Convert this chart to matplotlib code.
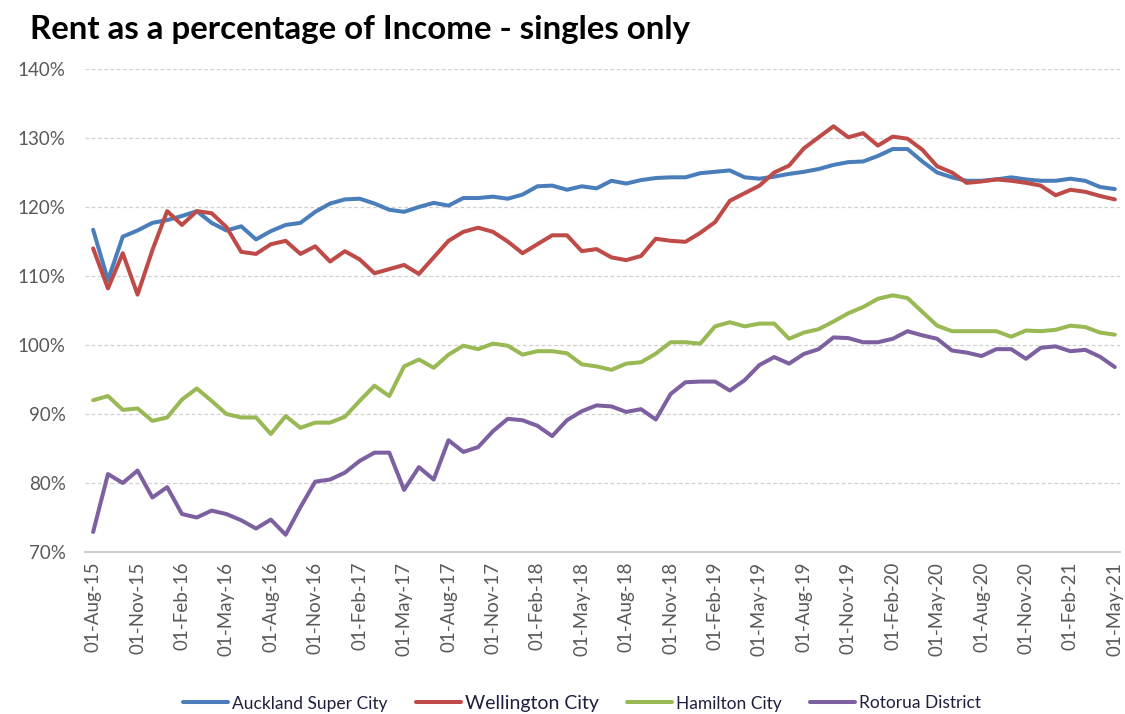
import matplotlib
matplotlib.use("Agg")
import matplotlib.pyplot as plt
import numpy as np
import pandas as pd

plt.rcParams['font.family'] = ['Lato', 'DejaVu Sans']

dates = pd.date_range("2015-08-01", "2021-05-01", freq="MS")

auckland = [116.7, 109.4, 115.7, 116.6, 117.7, 118.1, 118.7, 119.4, 117.7, 116.6,
            117.2, 115.3, 116.5, 117.4, 117.7, 119.3, 120.5, 121.1, 121.2, 120.5,
            119.6, 119.3, 120.0, 120.6, 120.2, 121.3, 121.3, 121.5, 121.2, 121.8,
            123.0, 123.1, 122.5, 123.0, 122.7, 123.8, 123.4, 123.9, 124.2, 124.3,
            124.3, 124.9, 125.1, 125.3, 124.3, 124.1, 124.4, 124.8, 125.1, 125.5,
            126.1, 126.5, 126.6, 127.4, 128.4, 128.4, 126.6, 125.0, 124.3, 123.8,
            123.8, 124.0, 124.3, 124.0, 123.8, 123.8, 124.1, 123.8, 122.9, 122.6]

wellington = [114.0, 108.2, 113.3, 107.3, 113.75, 119.4, 117.4, 119.4, 119.1, 117.1,
              113.5, 113.2, 114.6, 115.1, 113.2, 114.3, 112.1, 113.6, 112.4, 110.4,
              111.0, 111.6, 110.3, 112.7, 115.1, 116.4, 117.0, 116.4, 115.0, 113.3,
              114.6, 115.9, 115.9, 113.6, 113.9, 112.7, 112.3, 112.9, 115.4, 115.1,
              114.95, 116.25, 117.8, 120.9, 122.0, 123.1, 125.0, 126.0, 128.5, 130.1,
              131.7, 130.1, 130.7, 128.9, 130.2, 129.9, 128.3, 125.9, 125.0, 123.5,
              123.7, 124.0, 123.8, 123.5, 123.1, 121.7, 122.5, 122.2, 121.6, 121.1]

hamilton = [92.0, 92.6, 90.6, 90.8, 89.0, 89.5, 92.1, 93.7, 91.9, 90.0,
            89.5, 89.5, 87.1, 89.7, 88.0, 88.75, 88.75, 89.6, 91.9, 94.1,
            92.6, 96.9, 97.9, 96.7, 98.6, 99.9, 99.4, 100.2, 99.9, 98.6,
            99.1, 99.1, 98.8, 97.2, 96.9, 96.4, 97.3, 97.5, 98.75, 100.4,
            100.4, 100.2, 102.7, 103.3, 102.7, 103.1, 103.1, 100.9, 101.8, 102.3,
            103.4, 104.6, 105.5, 106.7, 107.2, 106.8, 104.8, 102.8, 102.0, 102.0,
            102.0, 102.0, 101.2, 102.1, 102.0, 102.2, 102.8, 102.6, 101.8, 101.5]

rotorua = [72.9, 81.3, 80.0, 81.8, 77.9, 79.4, 75.5, 75.0, 76.0, 75.5,
           74.6, 73.4, 74.7, 72.5, 76.5, 80.2, 80.5, 81.5, 83.2, 84.4,
           84.4, 79.0, 82.3, 80.5, 86.2, 84.5, 85.2, 87.5, 89.3, 89.1,
           88.3, 86.8, 89.1, 90.4, 91.25, 91.1, 90.3, 90.7, 89.2, 92.9,
           94.6, 94.7, 94.7, 93.4, 94.9, 97.1, 98.25, 97.3, 98.7, 99.4,
           101.1, 101.0, 100.4, 100.4, 100.9, 102.0, 101.4, 100.9, 99.2, 98.9,
           98.4, 99.4, 99.4, 98.0, 99.6, 99.8, 99.1, 99.3, 98.3, 96.8]

series_names = ["Auckland Super City", "Wellington City", "Hamilton City", "Rotorua District"]
series_values = [auckland, wellington, hamilton, rotorua]
colors = ["#4A7EBB", "#BE4B48", "#98B954", "#7D60A0"]

W, H = 1125, 714
fig = plt.figure(figsize=(W / 100, H / 100), dpi=100)
ax = fig.add_axes([85 / W, (H - 552) / H, (1120 - 85) / W, (552 - 69) / H])

x = np.arange(len(dates))
for name, vals, c in zip(series_names, series_values, colors):
    ax.plot(x, vals, color=c, lw=2.9, label=name, solid_joinstyle='round', solid_capstyle='round')

ax.set_ylim(70, 140)
ax.set_xlim(-0.55, 69.35)
ax.set_yticks(np.arange(70, 141, 10))
ax.set_yticklabels([f"{v}%" for v in range(70, 141, 10)])
ax.yaxis.grid(True, color="#D0D0D0", linestyle=(0, (3, 2)), linewidth=0.9)
ax.set_axisbelow(True)

tick_idx = x[::3]
ax.set_xticks(tick_idx)
ax.set_xticklabels([dates[i].strftime("01-%b-%y") for i in tick_idx], rotation=90)

for s in ["top", "right", "left"]:
    ax.spines[s].set_visible(False)
ax.spines["bottom"].set_color("#C8C8C8")
ax.spines["bottom"].set_linewidth(1.3)
ax.tick_params(axis="both", length=0, colors="#595959")
ax.tick_params(axis="y", labelsize=13.5, pad=14)
ax.tick_params(axis="x", labelsize=13.5, pad=7)

fig.text(30 / W, 1 - 29 / H, "Rent as a percentage of Income - singles only",
         fontsize=23.8, fontweight="bold", color="#000000", va="center", ha="left")

leg = fig.legend(loc="center", bbox_to_anchor=(582 / W, 1 - 703 / H), ncol=4,
                 frameon=False, fontsize=12.5, handlelength=2.6, handletextpad=0.25,
                 columnspacing=1.6)
for t in leg.get_texts():
    t.set_color("#1F1F3F")
leg.get_texts()[1].set_fontsize(14)

fig.savefig("out.png", dpi=100)
